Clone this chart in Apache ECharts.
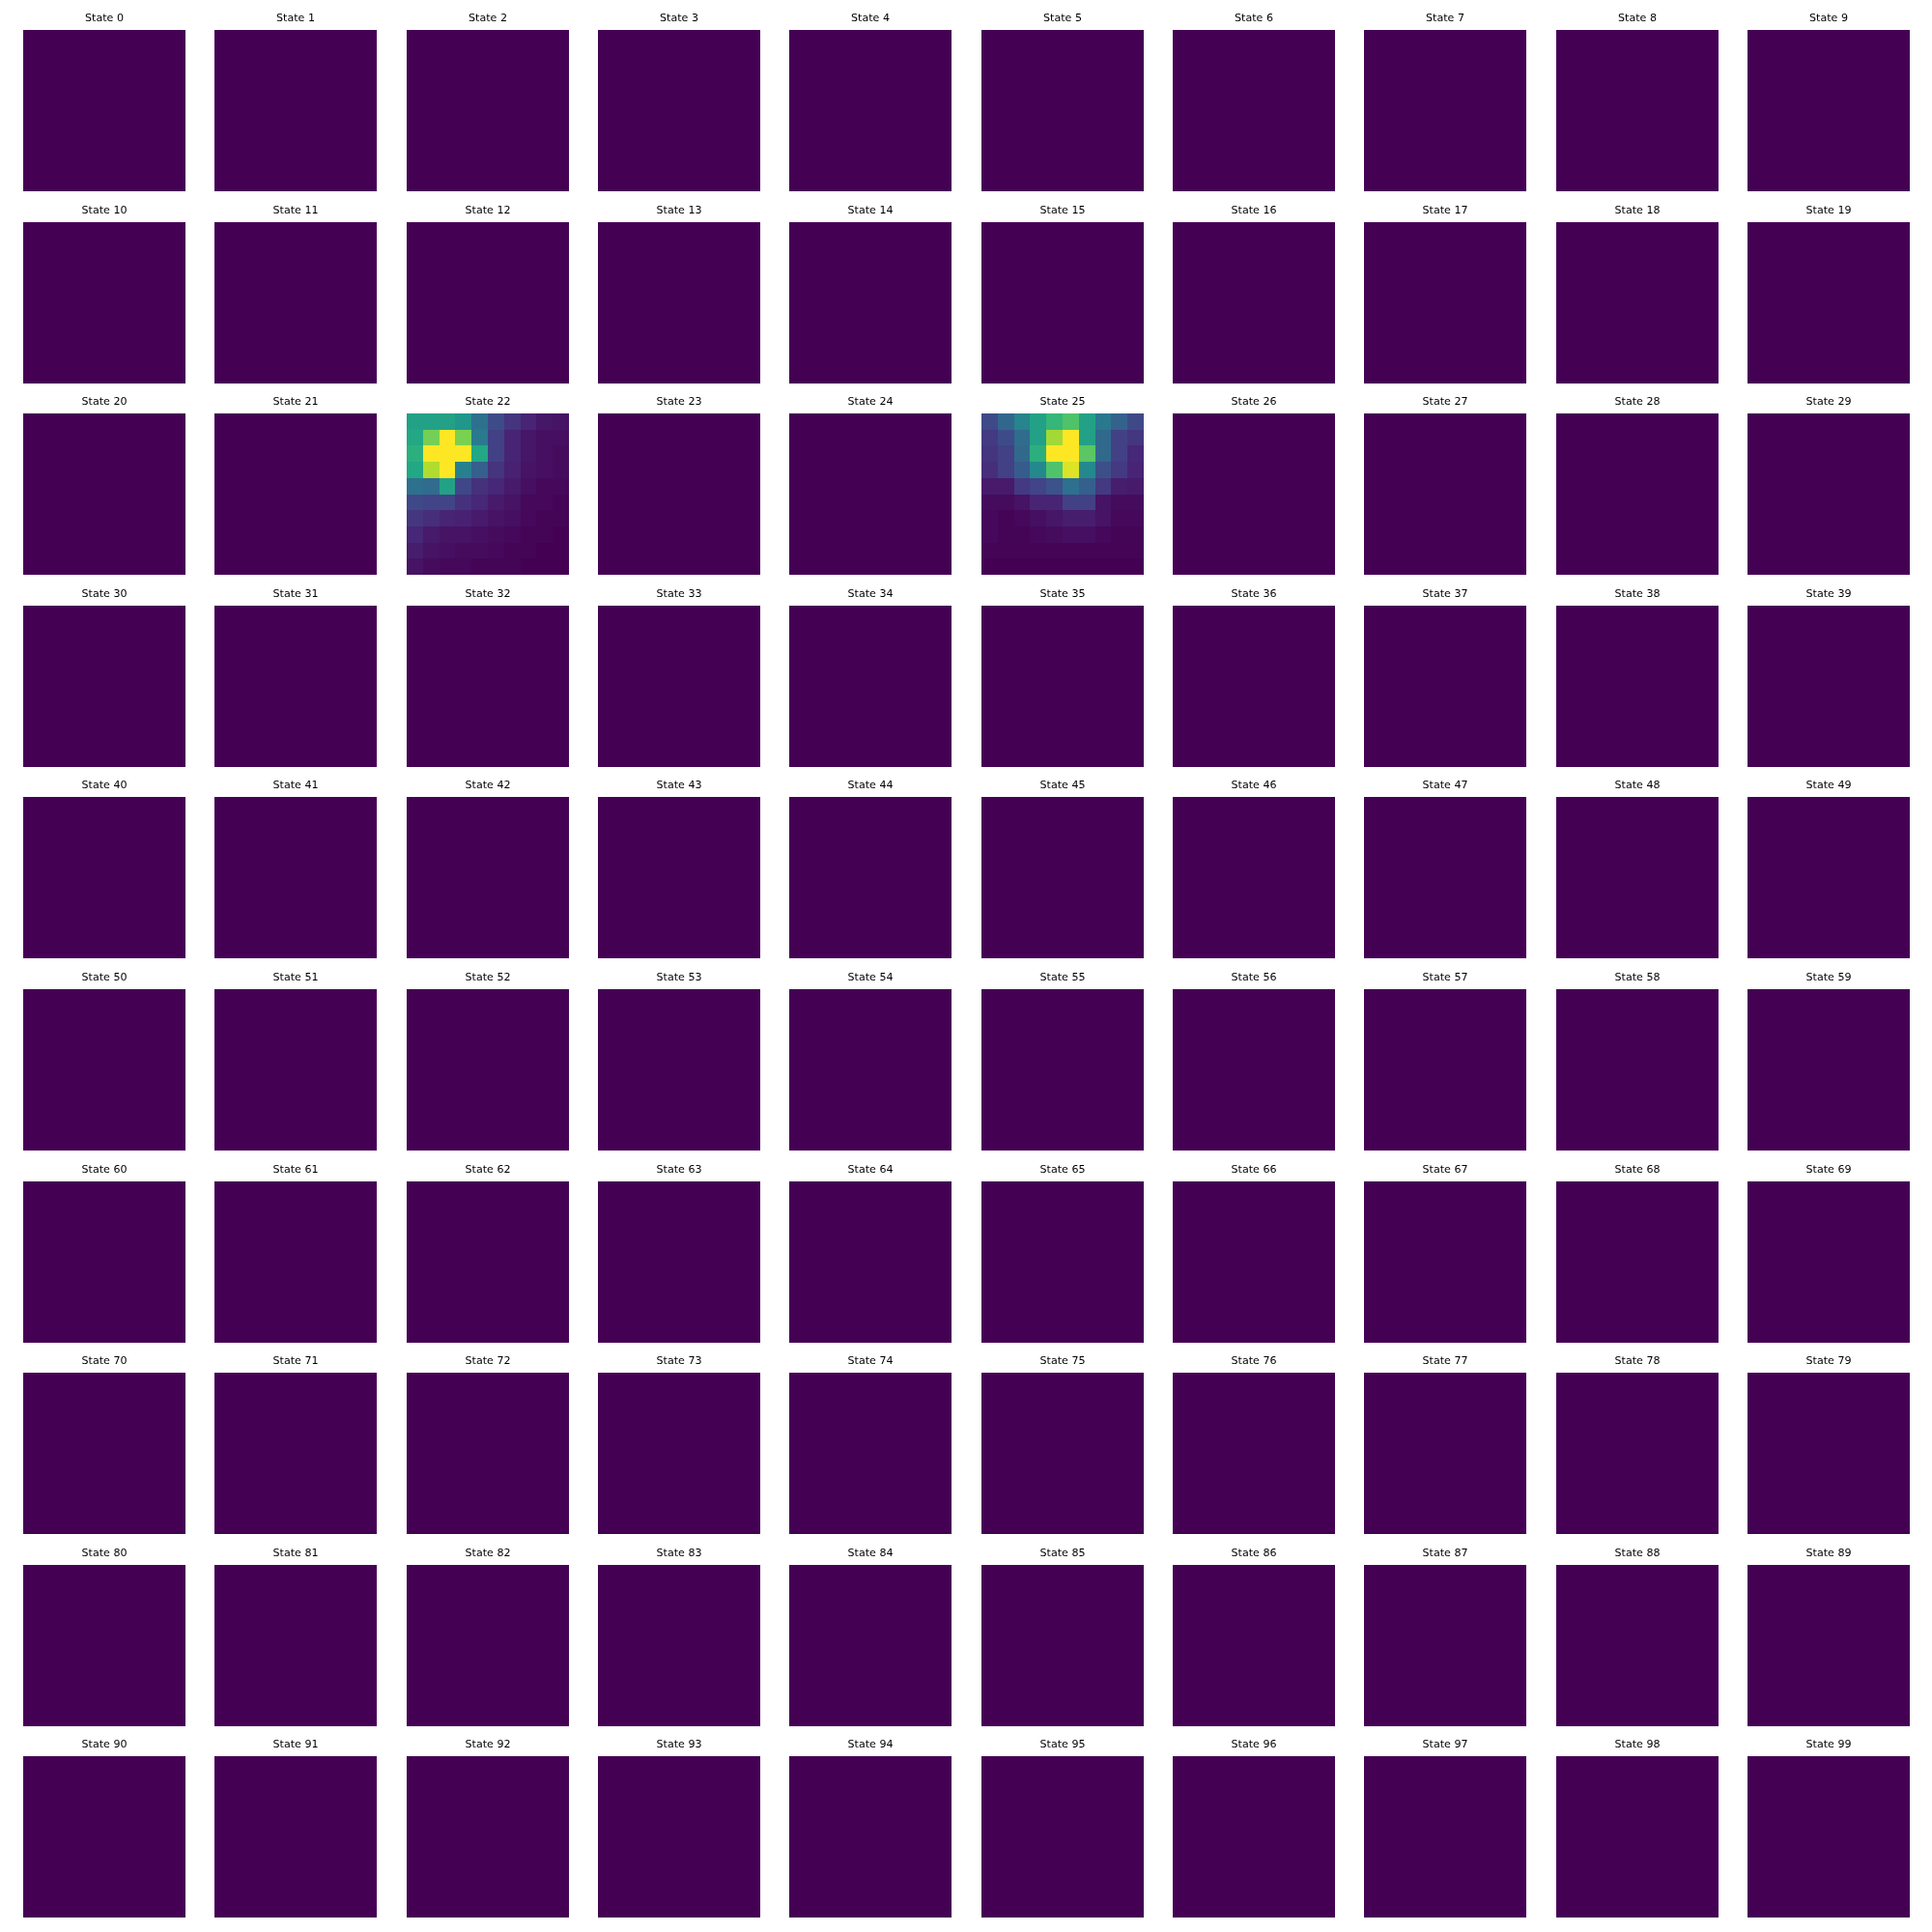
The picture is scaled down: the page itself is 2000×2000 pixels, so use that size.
<!DOCTYPE html>
<html>
<head>
<meta charset="utf-8">
<script src="https://cdn.jsdelivr.net/npm/echarts@6/dist/echarts.min.js"></script>
<style>html,body{margin:0;padding:0;background:#fff;}#chart{width:2000px;height:2000px;}</style>
</head>
<body>
<div id="chart"></div>
<script>
// ---- data ----
const stateCount = 100;
const gridCols = ['0','1','2','3','4','5','6','7','8','9'];
const gridRows = ['0','1','2','3','4','5','6','7','8','9'];

// panels that show all-equal values (rendered at the colormap minimum)
const uniformState = [
  [0,0,0,0,0,0,0,0,0,0],
  [0,0,0,0,0,0,0,0,0,0],
  [0,0,0,0,0,0,0,0,0,0],
  [0,0,0,0,0,0,0,0,0,0],
  [0,0,0,0,0,0,0,0,0,0],
  [0,0,0,0,0,0,0,0,0,0],
  [0,0,0,0,0,0,0,0,0,0],
  [0,0,0,0,0,0,0,0,0,0],
  [0,0,0,0,0,0,0,0,0,0],
  [0,0,0,0,0,0,0,0,0,0]
];

const state22 = [
  [0.57,0.57,0.57,0.52,0.37,0.23,0.15,0.10,0.06,0.05],
  [0.60,0.79,1.00,0.80,0.41,0.19,0.10,0.06,0.04,0.04],
  [0.63,1.00,1.00,1.00,0.60,0.19,0.10,0.06,0.04,0.03],
  [0.60,0.88,1.00,0.43,0.30,0.15,0.09,0.05,0.04,0.03],
  [0.37,0.35,0.57,0.21,0.14,0.11,0.07,0.04,0.02,0.02],
  [0.22,0.20,0.20,0.14,0.11,0.07,0.05,0.02,0.02,0.01],
  [0.16,0.13,0.10,0.09,0.07,0.05,0.04,0.02,0.01,0.01],
  [0.11,0.07,0.05,0.05,0.04,0.03,0.02,0.01,0.01,0.00],
  [0.08,0.05,0.04,0.03,0.03,0.02,0.01,0.01,0.00,0.00],
  [0.05,0.03,0.02,0.02,0.01,0.01,0.01,0.00,0.00,0.00]
];

const state25 = [
  [0.22,0.33,0.45,0.57,0.66,0.72,0.57,0.40,0.31,0.22],
  [0.17,0.23,0.35,0.57,0.86,1.00,0.57,0.34,0.19,0.16],
  [0.15,0.19,0.34,0.63,1.00,1.00,0.74,0.34,0.19,0.11],
  [0.13,0.19,0.29,0.47,0.72,0.95,0.47,0.24,0.17,0.10],
  [0.07,0.07,0.17,0.20,0.25,0.37,0.30,0.17,0.08,0.07],
  [0.03,0.03,0.05,0.10,0.10,0.19,0.19,0.05,0.03,0.03],
  [0.02,0.01,0.02,0.04,0.06,0.08,0.08,0.05,0.02,0.02],
  [0.02,0.01,0.01,0.02,0.03,0.04,0.04,0.02,0.01,0.01],
  [0.01,0.01,0.01,0.01,0.01,0.01,0.01,0.01,0.01,0.01],
  [0.00,0.00,0.00,0.00,0.00,0.00,0.00,0.00,0.00,0.00]
];

const specialStates = { 22: state22, 25: state25 };

const viridis = ['#440154','#482475','#414487','#355f8d','#2a788e','#21918c','#22a884','#44bf70','#7ad151','#bddf26','#fde725'];

// ---- layout ----
const panelLeft0 = 24, panelTop0 = 31, panelW = 168, panelH = 167;
const stepX = 198.33, stepY = 198.6;

function snap(v) { return Math.round(v + 1e-6); }

function renderCell(params, api) {
  const c = api.coord([api.value(0), api.value(1)]);
  const s = api.size([1, 1]);
  const x0 = snap(c[0] - s[0] / 2), x1 = snap(c[0] + s[0] / 2);
  const y0 = snap(c[1] - s[1] / 2), y1 = snap(c[1] + s[1] / 2);
  return {
    type: 'rect',
    shape: { x: x0, y: y0, width: x1 - x0, height: y1 - y0 },
    style: { fill: api.visual('color'), stroke: null }
  };
}

const grids = [], xAxes = [], yAxes = [], series = [], texts = [];
for (let i = 0; i < stateCount; i++) {
  const r = Math.floor(i / 10), c = i % 10;
  const left = Math.round(panelLeft0 + c * stepX);
  const top = Math.round(panelTop0 + r * stepY);
  grids.push({ left: left, top: top, width: panelW, height: panelH, containLabel: false });
  xAxes.push({ type: 'category', data: gridCols, gridIndex: i, show: false, boundaryGap: true });
  yAxes.push({ type: 'category', data: gridRows, gridIndex: i, show: false, inverse: true, boundaryGap: true });
  const m = specialStates[i] || uniformState;
  const data = [];
  for (let rr = 0; rr < m.length; rr++) {
    for (let cc = 0; cc < m[rr].length; cc++) {
      data.push([cc, rr, m[rr][cc]]);
    }
  }
  series.push({
    type: 'custom', xAxisIndex: i, yAxisIndex: i, data: data,
    encode: { x: 0, y: 1 },
    renderItem: renderCell, silent: true
  });
  texts.push({
    type: 'text',
    x: left + panelW / 2, y: top - 11.5,
    silent: true,
    style: {
      text: 'State ' + i, x: 0, y: 0,
      fill: '#000', font: '11.1px "DejaVu Sans"',
      align: 'center', verticalAlign: 'middle',
      textAlign: 'center', textVerticalAlign: 'middle'
    }
  });
}

const chart = echarts.init(document.getElementById('chart'), null, { renderer: 'canvas' });
chart.setOption({
  backgroundColor: '#ffffff',
  animation: false,
  grid: grids,
  xAxis: xAxes,
  yAxis: yAxes,
  visualMap: {
    type: 'continuous', show: false, min: 0, max: 1, dimension: 2,
    seriesIndex: series.map((s, k) => k),
    inRange: { color: viridis }
  },
  graphic: { elements: texts },
  series: series
});
</script>
</body>
</html>
